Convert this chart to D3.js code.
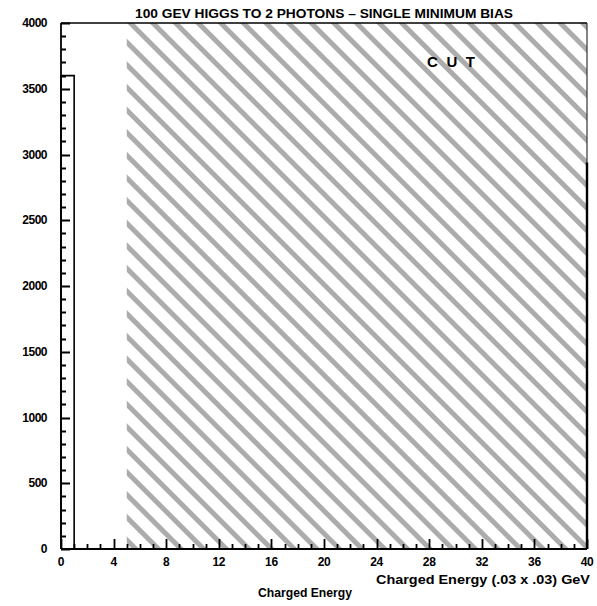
<!DOCTYPE html>
<html>
<head>
<meta charset="utf-8">
<script src="https://cdn.jsdelivr.net/npm/d3@7"></script>
<style>
  html, body { margin: 0; padding: 0; background: #fff; }
  svg { display: block; }
  text { font-family: "Liberation Sans", Arial, sans-serif; fill: #000; }
</style>
</head>
<body>
<svg id="chart" width="597" height="606"></svg>
<script>
// ---- data ----
const title = "100 GEV HIGGS TO 2 PHOTONS \u2013 SINGLE MINIMUM BIAS";
const xLabel = "Charged Energy (.03 x .03) GeV";
const subLabel = "Charged Energy";
const cutLabel = "C U T";
const binStarts = d3.range(0, 40);           // bins of width 1 from 0 to 40
const binValues = [3600].concat(new Array(39).fill(0));
const cutRange = [5, 40];
const overflowValue = 2940;
const yMajorTicks = [0, 500, 1000, 1500, 2000, 2500, 3000, 3500, 4000];
const yMinorTicks = d3.range(0, 4001, 100);
const xMajorTicks = [0, 4, 8, 12, 16, 20, 24, 28, 32, 36, 40];
const xMinorTicks = d3.range(0, 41, 1);

// ---- layout ----
const svg = d3.select("#chart");
const L = 61, R = 587, T = 23, B = 549;
const x = d3.scaleLinear().domain([0, 40]).range([L, R]);
const y = d3.scaleLinear().domain([0, 4000]).range([B, T]);

// hatch pattern
const defs = svg.append("defs");
const pat = defs.append("pattern")
  .attr("id", "hatch")
  .attr("patternUnits", "userSpaceOnUse")
  .attr("width", 16).attr("height", 16)
  .attr("patternTransform", "translate(" + x(cutRange[0]) + "," + T + ") rotate(-45)");
pat.append("rect").attr("x", 0).attr("y", 0).attr("width", 16).attr("height", 16).attr("fill", "#fff");
pat.append("rect").attr("x", 0).attr("y", 0).attr("width", 5).attr("height", 16).attr("fill", "#acacac");

svg.append("rect")
  .attr("x", x(cutRange[0])).attr("y", y(4000))
  .attr("width", x(cutRange[1]) - x(cutRange[0]))
  .attr("height", y(0) - y(4000))
  .attr("fill", "url(#hatch)");

// histogram outline
const histPath = d3.path();
histPath.moveTo(x(0), y(0));
binStarts.forEach((b, i) => {
  histPath.lineTo(x(b), y(binValues[i]));
  histPath.lineTo(x(b + 1), y(binValues[i]));
});
histPath.lineTo(x(40), y(0));
svg.append("path").attr("d", histPath.toString())
  .attr("fill", "none").attr("stroke", "#000").attr("stroke-width", 1.6);

// frame
svg.append("line").attr("x1", x(0)).attr("x2", x(40)).attr("y1", y(4000)).attr("y2", y(4000))
  .attr("stroke", "#000").attr("stroke-width", 1.4);
svg.append("line").attr("x1", x(40)).attr("x2", x(40)).attr("y1", y(4000)).attr("y2", y(0))
  .attr("stroke", "#333").attr("stroke-width", 1.2);
svg.append("line").attr("x1", x(40)).attr("x2", x(40)).attr("y1", y(overflowValue)).attr("y2", y(0))
  .attr("stroke", "#000").attr("stroke-width", 2.4);

// axes lines
svg.append("line").attr("x1", x(0)).attr("x2", x(0)).attr("y1", y(0)).attr("y2", y(4000))
  .attr("stroke", "#000").attr("stroke-width", 1.8);
svg.append("line").attr("x1", x(0)).attr("x2", x(40)).attr("y1", y(0)).attr("y2", y(0))
  .attr("stroke", "#000").attr("stroke-width", 1.8);

// tick marks (inward)
const yTickPath = d3.path();
yMinorTicks.forEach(d => {
  const len = yMajorTicks.includes(d) ? 9 : 5;
  yTickPath.moveTo(x(0), Math.round(y(d)) + 0.5);
  yTickPath.lineTo(x(0) + len, Math.round(y(d)) + 0.5);
});
svg.append("path").attr("d", yTickPath.toString())
  .attr("fill", "none").attr("stroke", "#000").attr("stroke-width", 1.8);

const xTickPath = d3.path();
xMinorTicks.forEach(d => {
  const len = xMajorTicks.includes(d) ? 10 : 5;
  xTickPath.moveTo(Math.round(x(d)) + 0.5, y(0));
  xTickPath.lineTo(Math.round(x(d)) + 0.5, y(0) - len);
});
svg.append("path").attr("d", xTickPath.toString())
  .attr("fill", "none").attr("stroke", "#000").attr("stroke-width", 1.8);

// tick labels
svg.append("g").selectAll("text").data(yMajorTicks).enter().append("text")
  .attr("x", 47).attr("y", d => y(d) + 4)
  .attr("text-anchor", "end")
  .attr("font-size", 12).attr("font-weight", "bold")
  .attr("letter-spacing", "-0.5")
  .text(d => d);
svg.append("g").selectAll("text").data(xMajorTicks).enter().append("text")
  .attr("x", d => x(d)).attr("y", B + 17)
  .attr("text-anchor", "middle")
  .attr("font-size", 12).attr("font-weight", "bold")
  .attr("letter-spacing", "-0.3")
  .text(d => d);

// title
svg.append("text")
  .attr("x", 324).attr("y", 18)
  .attr("text-anchor", "middle")
  .attr("font-size", 12).attr("font-weight", "bold")
  .attr("textLength", 378).attr("lengthAdjust", "spacingAndGlyphs")
  .text(title);

// x axis labels
svg.append("text")
  .attr("x", 590).attr("y", 584)
  .attr("text-anchor", "end")
  .attr("font-size", 12).attr("font-weight", "bold")
  .attr("textLength", 214).attr("lengthAdjust", "spacingAndGlyphs")
  .text(xLabel);
svg.append("text")
  .attr("x", 305).attr("y", 597)
  .attr("text-anchor", "middle")
  .attr("font-size", 12).attr("font-weight", "bold")
  .attr("textLength", 94).attr("lengthAdjust", "spacingAndGlyphs")
  .text(subLabel);

// CUT label
svg.append("text")
  .attr("x", 451).attr("y", 67)
  .attr("text-anchor", "middle")
  .attr("font-family", "'Liberation Serif', 'DejaVu Serif', serif")
  .attr("font-weight", "bold")
  .attr("font-size", 15)
  .attr("textLength", 48).attr("lengthAdjust", "spacing")
  .text(cutLabel);
</script>
</body>
</html>
